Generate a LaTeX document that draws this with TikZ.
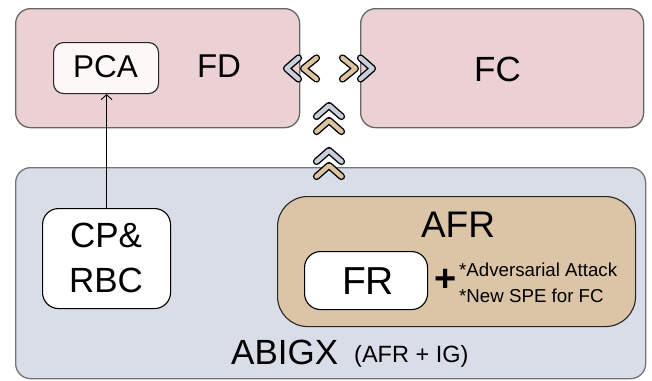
\documentclass[tikz,border=0pt]{standalone}
\usepackage{fontspec}
\setmainfont{Liberation Sans}
\usetikzlibrary{arrows.meta}
\definecolor{pinkbg}{HTML}{EBD1D3}
\definecolor{bluebg}{HTML}{D9DDE7}
\definecolor{tanbg}{HTML}{DCC4A6}
\definecolor{pcabg}{HTML}{FDF7F7}
\definecolor{chevgray}{HTML}{C8CEDC}
\definecolor{chevtan}{HTML}{DDC4A0}
\definecolor{edgegray}{HTML}{666666}
\newcommand{\fsz}[1]{\fontsize{#1}{#1}\selectfont}
\begin{document}
\begin{tikzpicture}[x=1pt,y=-1pt,
  bigbox/.style={draw=edgegray,line width=1.3pt,rounded corners=15pt,inner sep=0pt,anchor=north west},
  whitebox/.style={draw=black,line width=1.1pt,fill=white,inner sep=0pt,anchor=north west},
  lbl/.style={inner sep=0pt,anchor=base},
  chev/.style={line width=4.4pt,line cap=round,line join=round,preaction={draw=black,line width=7.2pt,line cap=round,line join=round}}
]
\useasboundingbox (0,0) rectangle (652,380);
% boxes
\node[bigbox,fill=pinkbg,minimum width=284pt,minimum height=119pt] (fd) at (15,8) {};
\node[bigbox,fill=pinkbg,minimum width=283pt,minimum height=119pt] (fc) at (360,8) {};
\node[bigbox,fill=bluebg,draw=edgegray!90,minimum width=630pt,minimum height=211pt] (abigx) at (15,167) {};
\node[whitebox,fill=pcabg,draw=black!85,rounded corners=10pt,minimum width=105pt,minimum height=51pt] (pca) at (53,42) {};
\node[whitebox,rounded corners=16pt,minimum width=128pt,minimum height=100pt] (cprbc) at (42,208) {};
\node[whitebox,fill=tanbg,draw=black!85,rounded corners=30pt,minimum width=358pt,minimum height=130pt] (afr) at (277,196) {};
\node[whitebox,rounded corners=16pt,minimum width=123pt,minimum height=58pt] (fr) at (304,251) {};
% labels
\node[lbl,font=\fsz{31.5}] (tpca) at (105.5,77.5) {PCA};
\node[lbl,font=\fsz{33}] (tfd) at (219,77.5) {FD};
\node[lbl,font=\fsz{35}] (tfc) at (497.5,81) {FC};
\node[lbl,font=\fsz{35}] (tcp) at (106,247) {CP\&};
\node[lbl,font=\fsz{35}] (trbc) at (106,292) {RBC};
\node[lbl,font=\fsz{37}] (tafr) at (458,237) {AFR};
\node[lbl,font=\fsz{39}] (tfr) at (368,294) {FR};
\node[inner sep=0pt,font=\fsz{38}\bfseries] (plus) at (446,280) {+};
\node[lbl,font=\fsz{18.7},anchor=base west] (tadv) at (459,276) {*Adversarial Attack};
\node[lbl,font=\fsz{18.7},anchor=base west] (tspe) at (459,302) {*New SPE for FC};
\node[lbl,font=\fsz{35},anchor=base west] (tabigx) at (231,364) {ABIGX};
\node[lbl,font=\fsz{23.5},anchor=base west] (tafrig) at (354,362) {(AFR + IG)};
% arrow
\draw[-{Straight Barb[length=5pt,width=11pt]},line width=0.9pt] (cprbc.north) -- (cprbc.north |- pca.south);
% chevrons
\draw[chev,chevgray] (298.5,58) -- (286.5,68.5) -- (298.5,79);
\draw[chev,chevtan] (316.5,58) -- (303.5,68.5) -- (316.5,79);
\draw[chev,chevtan] (342.5,58) -- (355.5,68.5) -- (342.5,79);
\draw[chev,chevgray] (360.5,58) -- (372.5,68.5) -- (360.5,79);
\draw[chev,chevgray] (316.5,116.5) -- (329,105.5) -- (341.5,116.5);
\draw[chev,chevtan] (316.5,131.5) -- (329,120.5) -- (341.5,131.5);
\draw[chev,chevgray] (316.5,161.5) -- (329,150.5) -- (341.5,161.5);
\draw[chev,chevtan] (316.5,176.5) -- (329,165.5) -- (341.5,176.5);
\end{tikzpicture}
\end{document}
